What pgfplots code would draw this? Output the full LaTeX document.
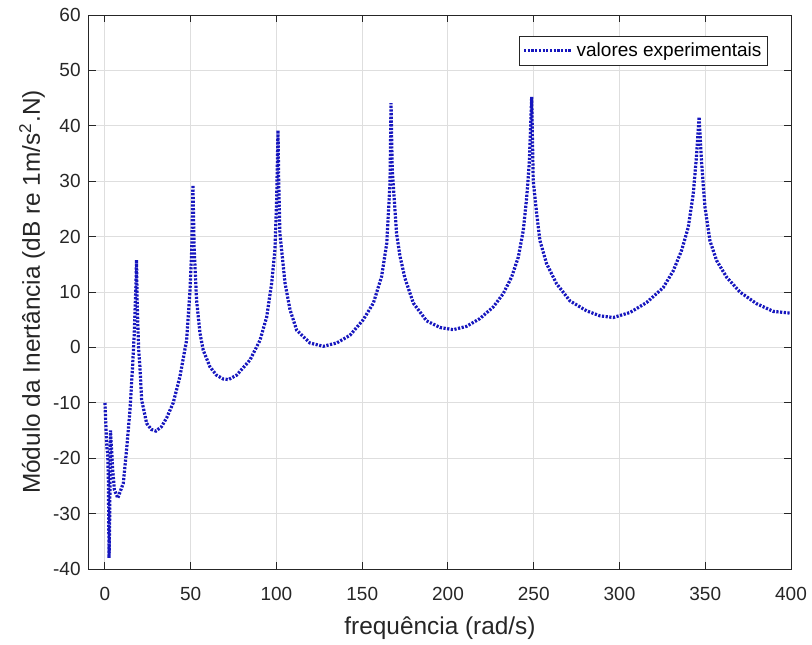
\documentclass[border=0pt]{standalone}
\usepackage{pgfplots}
\pgfplotsset{compat=1.18}
\usepackage{fontspec}
\setmainfont{Liberation Sans}

\definecolor{axgray}{RGB}{38,38,38}
\definecolor{gridgray}{RGB}{222,222,222}
\definecolor{dotblue}{RGB}{22,22,190}

\begin{document}
\begin{tikzpicture}
% canvas of the reference (812x644 px at 0.5pt/px), axis box at origin
\useasboundingbox (-44.5pt,-37.5pt) rectangle (361.5pt,284.5pt);
\begin{axis}[
  scale only axis,
  width=351pt, height=277pt,
  xmin=-9.3, xmax=400, ymin=-40, ymax=60,
  xtick={0,50,...,400},
  ytick={-40,-30,...,60},
  yticklabels={-40,-30,-20,-10,0,10,20,30,40,50,60},
  tick align=inside,
  major tick length=3.5pt,
  tick style={axgray, line width=0.5pt},
  axis line style={axgray, line width=0.5pt},
  grid=major,
  grid style={gridgray, line width=0.5pt},
  /pgf/number format/assume math mode=true,
  ticklabel style={font=\fontsize{9.5}{11}\selectfont, text=axgray},
  xticklabel style={anchor=base, yshift=-15.5pt},
  yticklabel style={anchor=east, inner sep=0pt, xshift=-4pt},
  xlabel={frequência (rad/s)},
  ylabel={Módulo da Inertância (dB re 1m/s\textsuperscript{2}.N)},
  label style={font=\fontsize{12.2}{14}\selectfont, text=axgray},
  xlabel style={at={(axis description cs:0.5,-0.1065)}, anchor=center},
  ylabel style={at={(axis description cs:-0.081,0.5)}, anchor=center, rotate=0},
  legend style={
    at={(axis description cs:0.9672,0.9621)}, anchor=north east,
    draw=axgray, line width=0.5pt, fill=white,
    inner xsep=1.5pt, inner ysep=1.5pt,
    nodes={inner sep=1.5pt, text=black},
    font=\fontsize{9.5}{11}\selectfont,
  },
  legend cell align=left,
  legend image code/.code={\draw[#1] (0pt,0pt) -- (24pt,0pt);},
]
\addplot[dotblue, line width=1.6pt, dash pattern=on 1.1pt off 0.75pt, line cap=butt]
coordinates {
  (0,-10)(0.4,-13)(0.8,-16)(1.2,-18.5)(1.6,-19)(2.0,-24)(2.4,-38)(2.8,-30)
  (3.2,-15)(3.8,-18)(4.5,-22)(5.5,-25.7)(7.5,-27.2)(10.7,-24.5)(12.6,-18.5)
  (14.6,-11.3)(16.1,-3.5)(17.1,2.6)(18.1,11.6)(18.4,15.8)(18.8,8)(19.6,0)
  (20.4,-3.5)(21.4,-9.5)(24.3,-13.7)(27,-14.8)(29.7,-15.1)(33,-14.3)(36,-12.7)
  (39.8,-10)(43.7,-5.3)(47.6,1.3)(49.6,10.4)(50.6,17.6)(51.3,29.3)(52,18)
  (53.4,8.6)(55.4,2.6)(57.3,-0.5)(61.2,-3.5)(65,-5)(69,-5.7)(72,-5.8)
  (76.8,-5)(84.5,-2.3)(90.4,1.3)(94.3,5.5)(97.2,11.6)(99.1,17.6)(100.1,26.6)
  (100.9,39.2)(101.3,30)(102,20.6)(105,11.6)(107.9,6.8)(111.8,3.1)(119.5,0.8)
  (127.3,0.2)(135.1,0.8)(142.9,2.2)(150.6,5)(156.5,8)(161.3,12.8)(164.3,18.8)
  (166.2,29.6)(166.8,44.1)(167.5,32)(170,20.6)(172,16.5)(174.9,12.5)(179.8,8)
  (187.5,4.8)(195.3,3.6)(203,3.2)(210.8,3.8)(218.6,5.2)(226.4,7.3)(232.2,9.7)
  (237.1,12.7)(241,16.3)(243.9,21.1)(245.9,27.1)(247.4,33.2)(248.8,45.2)
  (249.7,30.1)(251.7,24.2)(253.6,19.3)(257.5,15.1)(263.3,11.5)(271.1,8.4)
  (280.8,6.6)(288.6,5.7)(296.4,5.4)(306.1,6.3)(315.8,8.1)(325.5,10.8)
  (331.3,13.8)(336.2,17.5)(340.1,21.7)(343,27.7)(345,34.9)(346.4,41.6)
  (347.9,33.2)(349.8,25.4)(352.7,19.3)(356.6,15.7)(362.4,12.7)(370.2,10)
  (379.9,7.9)(389.7,6.5)(399.4,6.2)(400,6.2)
};
\addlegendentry{valores experimentais}
\end{axis}
\end{tikzpicture}
\end{document}
